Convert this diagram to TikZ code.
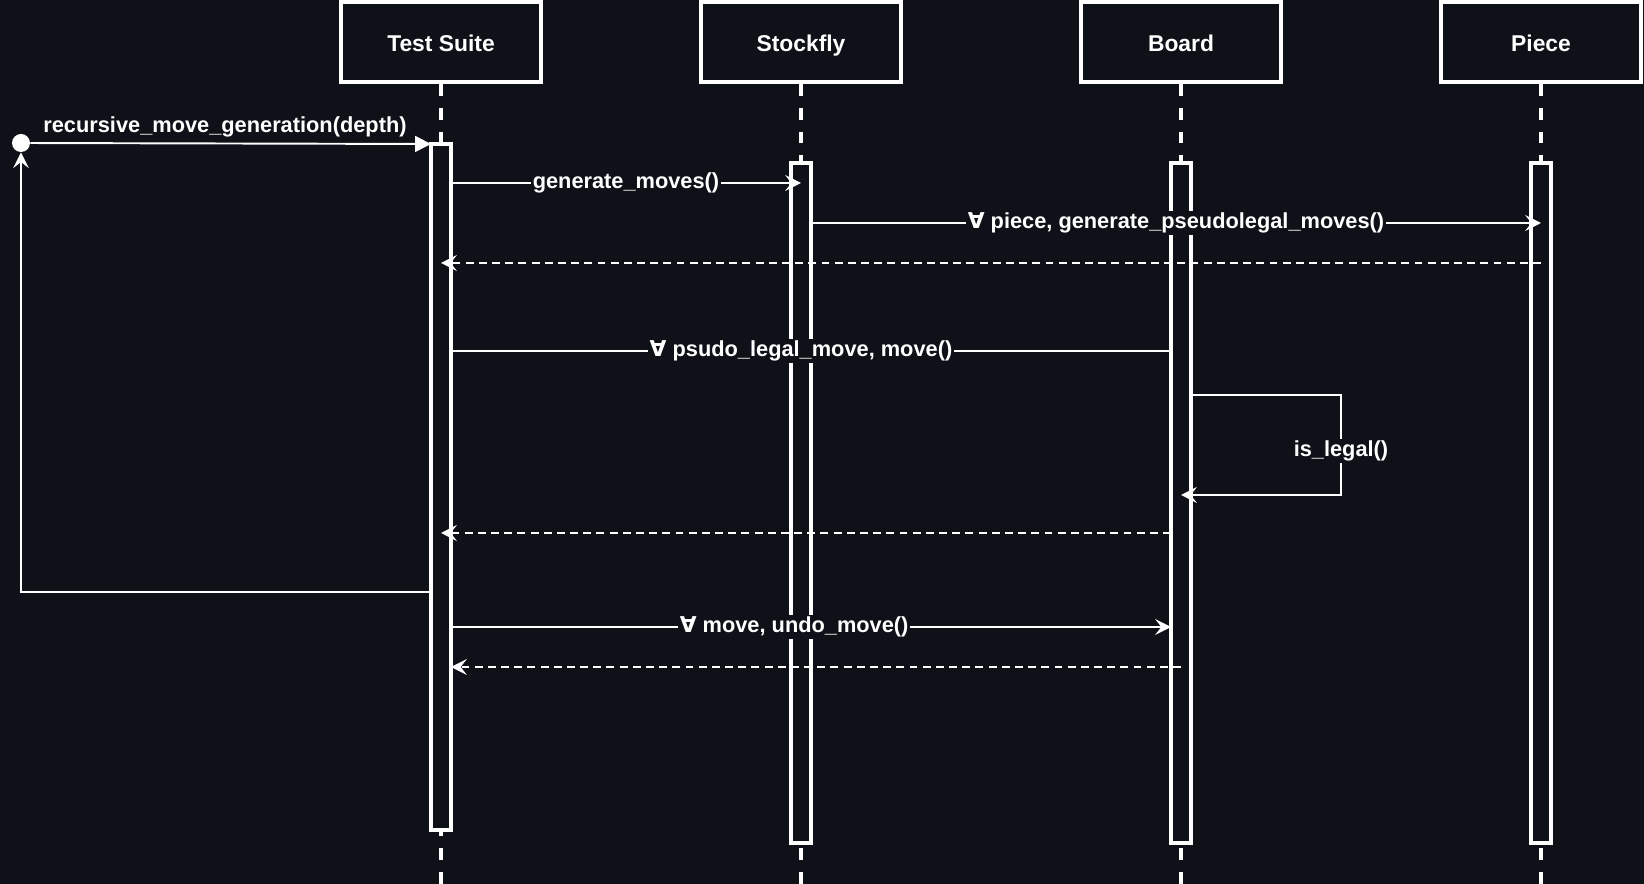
\documentclass[tikz,border=0pt]{standalone}
\usepackage{fontspec}
\setmainfont{Liberation Sans}
\newfontfamily\allfont{DejaVu Sans}
\usetikzlibrary{arrows.meta,positioning,calc}
\definecolor{bgcol}{RGB}{14,17,23}

\begin{document}
\begin{tikzpicture}[x=0.02cm,y=-0.02cm]
  \tikzstyle{header}=[rectangle, draw=white, line width=2pt, fill=bgcol, minimum width=4cm,
                      minimum height=1.6cm, text=white, text height=11.3pt, text depth=0pt,
                      font=\fontsize{13}{15}\selectfont\bfseries]
  \tikzstyle{actbar}=[rectangle, draw=white, line width=2pt, fill=bgcol, minimum width=0.4cm,
                      anchor=north, inner sep=0pt, outer sep=0pt]
  \tikzstyle{lifeline}=[white, line width=2pt, dash pattern=on 6.8pt off 6.8pt]
  \tikzstyle{msg}=[white, line width=1.1pt]
  \tikzstyle{ret}=[msg, dash pattern=on 4.5pt off 3pt]
  \tikzstyle{lbl}=[fill=bgcol, text=white, inner sep=1pt, font=\fontsize{12.4}{14}\selectfont\bfseries]
  \tikzstyle{tip}=[-{Stealth[length=9pt,width=9pt,inset=3.5pt]}]
  \fill[bgcol] (0,0) rectangle (1644,884);
  \useasboundingbox (0,0) rectangle (1644,884);
  \node[header] (ts) at (441,42) {Test Suite};
  \node[header] (sf) at (801,42) {Stockfly};
  \node[header] (bd) at (1181,42) {Board};
  \node[header] (pc) at (1541,42) {Piece};
  \foreach \h in {ts,sf,bd,pc}
    \draw[lifeline] (\h.south) -- (\h.south |- 0,884);
  \node[actbar, minimum height=13.72cm] (tsact) at (441,144) {};
  \node[actbar, minimum height=13.6cm] (sfact) at (801,163) {};
  \node[actbar, minimum height=13.6cm] (bdact) at (1181,163) {};
  \node[actbar, minimum height=13.6cm] (pcact) at (1541,163) {};
  \node[circle, fill=white, inner sep=0pt, minimum size=0.36cm] (start) at (21,143) {};
  \draw[msg, -{Triangle[length=9pt,width=9pt]}] (start) -- (tsact.north west);
  \node[lbl, fill=none, anchor=base] (recmsg) at (225,133) {recursive\_move\_generation(depth)};
  \draw[msg, tip] (tsact.west |- 0,592) -| (start.south);
  \draw[msg, tip] (tsact.east |- 0,183) -- node[lbl] {generate\_moves()} (sfact |- 0,183);
  \draw[msg, tip] (sfact.east |- 0,223) -- node[lbl] {{\allfont ∀} piece, generate\_pseudolegal\_moves()} (pcact |- 0,223);
  \draw[ret, tip] (pcact |- 0,263) -- (tsact |- 0,263);
  \draw[msg] (tsact.east |- 0,351) -- node[lbl, xshift=-5.7pt] {{\allfont ∀} psudo\_legal\_move, move()} (bdact.west |- 0,351);
  \draw[msg, tip] (bdact.east |- 0,395) -| node[lbl, pos=0.78] {is\_legal()} (1341,495) -- (bdact |- 0,495);
  \draw[ret, tip] (bdact.west |- 0,533) -- (tsact |- 0,533);
  \draw[msg, tip] (tsact.east |- 0,627) -- node[lbl, xshift=-9.6pt] {{\allfont ∀} move, undo\_move()} (bdact.west |- 0,627);
  \draw[ret, tip] (bdact |- 0,667) -- (tsact.east |- 0,667);
\end{tikzpicture}
\end{document}
